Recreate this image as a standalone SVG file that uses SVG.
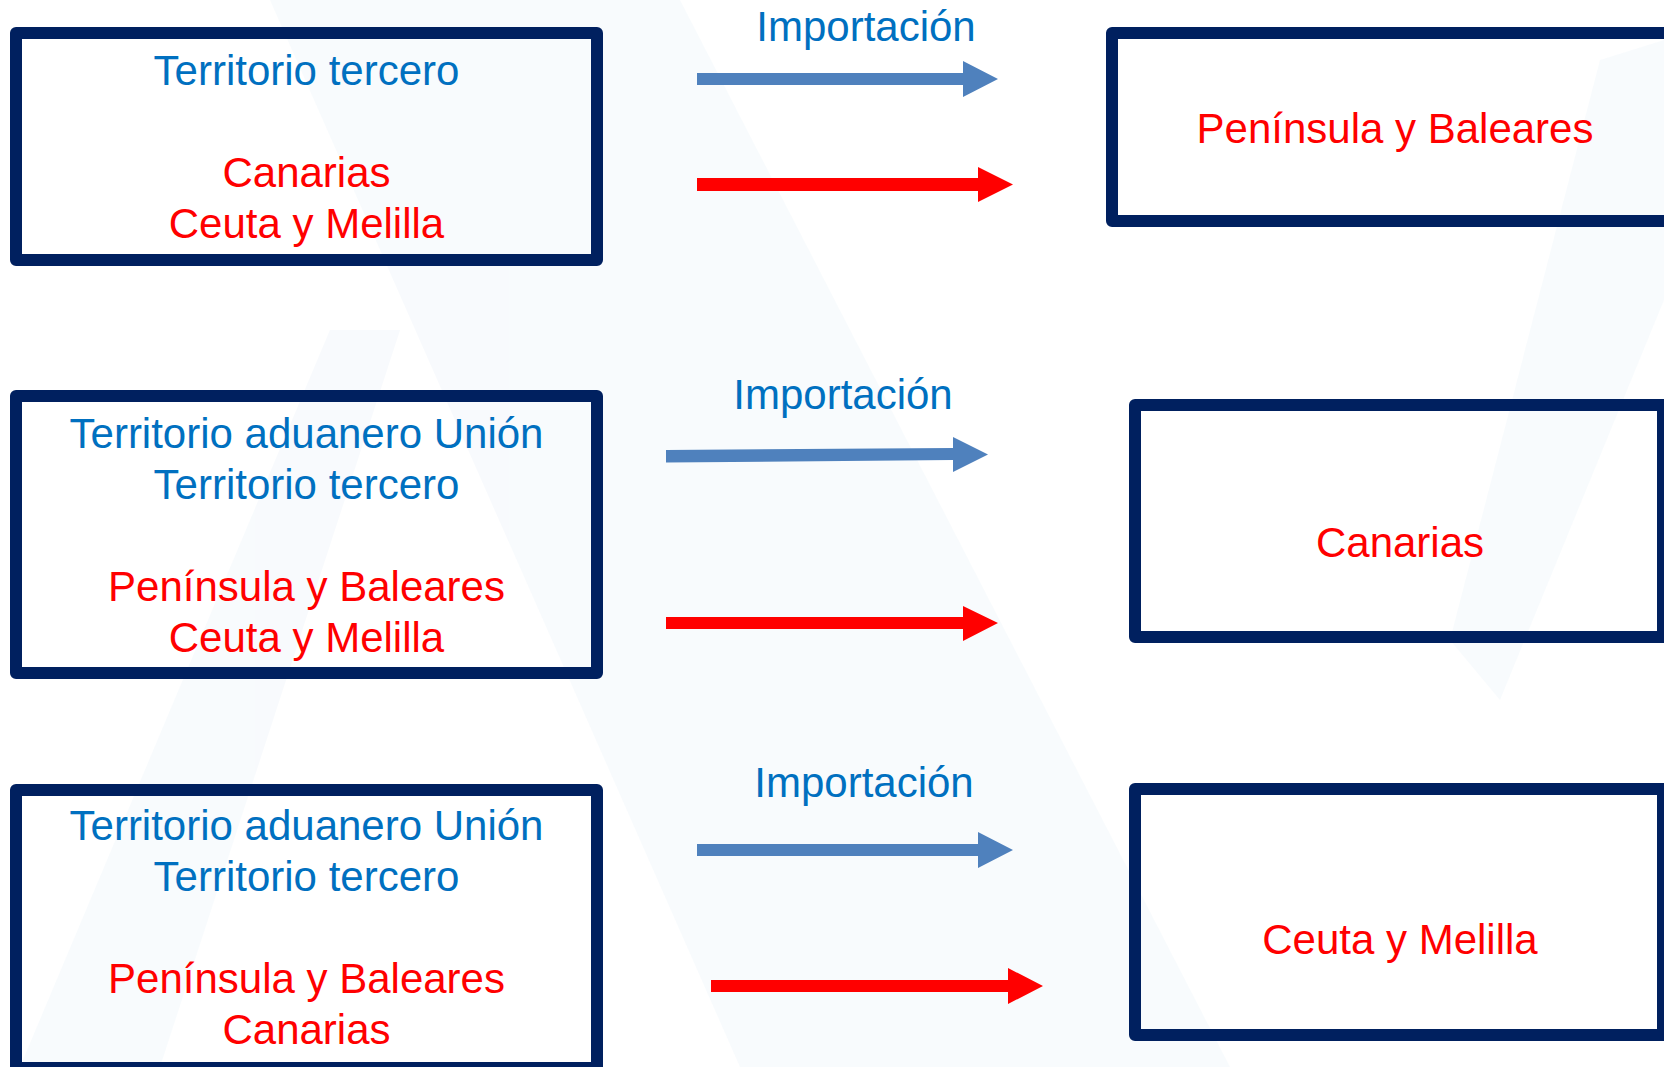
<svg xmlns="http://www.w3.org/2000/svg" width="1664" height="1067" viewBox="0 0 1664 1067">
<defs>
<style>
.bg{fill:#F3F7FC;}
.box{fill:none;stroke:#00205F;stroke-width:12;stroke-linejoin:round;}
.t{font-family:"Liberation Sans",Arial,sans-serif;font-size:42px;text-anchor:middle;}
.b{fill:#0070C0;}
.r{fill:#FF0000;}
.ab{fill:#4F81BD;}
.ar{fill:#FF0000;}
</style>
</defs>
<rect width="1664" height="1067" fill="#FFFFFF"/>
<g id="watermark" opacity="0.55">
<polygon class="bg" points="270,0 680,0 1230,1067 740,1067"/>
<polygon class="bg" points="20,1067 330,330 400,330 160,1067"/>
<polygon class="bg" points="1600,60 1664,40 1664,300 1500,700 1450,640"/>
</g>
<g id="node-left-1">
<rect class="box" x="16" y="33" width="581" height="227"/>
<text class="t b" x="306.5" y="85">Territorio tercero</text>
<text class="t r" x="306.5" y="187">Canarias</text>
<text class="t r" x="306.5" y="238">Ceuta y Melilla</text>
</g>
<g id="node-left-2">
<rect class="box" x="16" y="396" width="581" height="277"/>
<text class="t b" x="306.5" y="448">Territorio aduanero Unión</text>
<text class="t b" x="306.5" y="499">Territorio tercero</text>
<text class="t r" x="306.5" y="601">Península y Baleares</text>
<text class="t r" x="306.5" y="652">Ceuta y Melilla</text>
</g>
<g id="node-left-3">
<rect class="box" x="16" y="790" width="581" height="278"/>
<text class="t b" x="306.5" y="840">Territorio aduanero Unión</text>
<text class="t b" x="306.5" y="891">Territorio tercero</text>
<text class="t r" x="306.5" y="993">Península y Baleares</text>
<text class="t r" x="306.5" y="1044">Canarias</text>
</g>
<g id="node-right-1">
<rect class="box" x="1112" y="33" width="566" height="188"/>
<text class="t r" x="1395" y="143">Península y Baleares</text>
</g>
<g id="node-right-2">
<rect class="box" x="1135" y="405" width="528" height="232"/>
<text class="t r" x="1400" y="557">Canarias</text>
</g>
<g id="node-right-3">
<rect class="box" x="1135" y="789" width="528" height="246"/>
<text class="t r" x="1400" y="954">Ceuta y Melilla</text>
</g>
<g id="connectors">
<text class="t b" x="866" y="41">Importación</text>
<polygon class="ab" points="697,73 963,73 963,61 998,79 963,97 963,85 697,85"/>
<polygon class="ar" points="697,178 978,178 978,167 1013,184.5 978,202 978,191 697,191"/>
<text class="t b" x="843" y="409">Importación</text>
<polygon class="ab" points="666,450 953,448 953,437 988,454.5 953,472 953,460 666,462.5"/>
<polygon class="ar" points="666,617 963,617 963,606 998,623 963,641 963,629 666,629"/>
<text class="t b" x="864" y="797">Importación</text>
<polygon class="ab" points="697,844 978,844 978,832 1013,850 978,868 978,856 697,856"/>
<polygon class="ar" points="711,980 1008,980 1008,968 1043,986 1008,1004 1008,992 711,992"/>
</g>
</svg>
